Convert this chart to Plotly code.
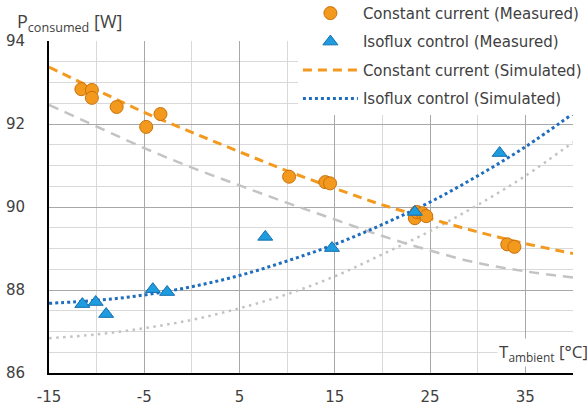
import plotly.graph_objects as go

# Simulated curves (x in °C, y in W)
x_sim = [-15, -10, -5, 0, 5, 10, 15, 20, 25, 30, 35, 40]
cc_sim = [93.37, 92.82, 92.28, 91.80, 91.33, 90.87, 90.45, 90.05, 89.72, 89.40, 89.12, 88.88]
iso_sim = [87.68, 87.75, 87.88, 88.08, 88.35, 88.70, 89.10, 89.58, 90.12, 90.75, 91.45, 92.25]
cc_sim_gray = [92.46, 91.94, 91.42, 90.95, 90.52, 90.10, 89.70, 89.30, 88.95, 88.65, 88.45, 88.30]
iso_sim_gray = [86.84, 86.93, 87.08, 87.28, 87.56, 87.90, 88.33, 88.86, 89.42, 90.05, 90.75, 91.56]

# Measured points
cc_meas_x = [-11.6, -10.5, -10.5, -7.9, -4.8, -3.3, 10.2, 14.0, 14.5, 23.4, 23.6, 24.2, 24.6, 33.1, 33.85]
cc_meas_y = [92.84, 92.82, 92.63, 92.41, 91.93, 92.24, 90.73, 90.60, 90.57, 89.73, 89.88, 89.85, 89.78, 89.10, 89.04]
iso_meas_x = [-11.5, -10.1, -9.0, -4.1, -2.6, 7.7, 14.7, 23.4, 32.3]
iso_meas_y = [87.66, 87.71, 87.42, 88.02, 87.95, 89.28, 89.01, 89.88, 91.30]

x_ticks = [-15, -5, 5, 15, 25, 35]
y_ticks = [86, 88, 90, 92, 94]

FONT = "DejaVu Sans"
TITLE_FONT = "Open Sans"
TXT = "#404040"
ORANGE = "#F39A1E"
ORANGE_EDGE = "#C9700A"
BLUE = "#1E9CDF"
BLUE_EDGE = "#136FAE"
BLUE_LINE = "#1F6DBE"
GRAY = "#C3C3C3"

fig = go.Figure()

fig.add_trace(go.Scatter(x=x_sim, y=cc_sim_gray, mode="lines", showlegend=False,
                         line=dict(color=GRAY, width=2.5, dash="10px,7px", shape="spline"),
                         hoverinfo="skip"))
fig.add_trace(go.Scatter(x=x_sim, y=iso_sim_gray, mode="lines", showlegend=False,
                         line=dict(color=GRAY, width=2.5, dash="2.5px,4.5px", shape="spline"),
                         hoverinfo="skip"))
fig.add_trace(go.Scatter(x=x_sim, y=cc_sim, mode="lines", name="Constant current (Simulated)",
                         legendrank=3, legendgroup="c",
                         line=dict(color=ORANGE, width=3, dash="9px,6px", shape="spline")))
fig.add_trace(go.Scatter(x=x_sim, y=iso_sim, mode="lines", name="Isoflux control (Simulated)",
                         legendrank=4, legendgroup="d",
                         line=dict(color=BLUE_LINE, width=3, dash="3px,3px", shape="spline")))
fig.add_trace(go.Scatter(x=cc_meas_x, y=cc_meas_y, mode="markers", name="Constant current (Measured)",
                         legendrank=1, legendgroup="a",
                         marker=dict(symbol="circle", size=13, color=ORANGE,
                                     line=dict(color=ORANGE_EDGE, width=1))))
fig.add_trace(go.Scatter(x=iso_meas_x, y=iso_meas_y, mode="markers", name="Isoflux control (Measured)",
                         legendrank=2, legendgroup="b",
                         marker=dict(symbol="triangle-up", size=13, color=BLUE,
                                     line=dict(color=BLUE_EDGE, width=1))))

axis_common = dict(
    showline=True, linecolor="black", linewidth=2, zeroline=False,
    ticks="", tickfont=dict(family=FONT, size=15, color=TXT),
    showgrid=True, gridcolor="#A8A8A8", gridwidth=1,
)

fig.update_xaxes(range=[-15, 40], tickvals=x_ticks, ticktext=[str(v) for v in x_ticks],
                 minor=dict(dtick=5, tick0=-15, showgrid=True, gridcolor="#D9D9D9", gridwidth=1),
                 ticklabelstandoff=9, **axis_common)
fig.update_yaxes(range=[86, 94], tickvals=y_ticks, ticktext=[str(v) for v in y_ticks],
                 minor=dict(dtick=0.5, tick0=86, showgrid=True, gridcolor="#D9D9D9", gridwidth=1),
                 ticklabelstandoff=19, **axis_common)

fig.update_layout(
    width=587, height=407,
    margin=dict(l=49, r=14, t=41, b=34, autoexpand=False),
    plot_bgcolor="white", paper_bgcolor="white",
    font=dict(family=FONT, color=TXT),
    legend=dict(x=0.475, xanchor="left", y=1.133, yanchor="top",
                bgcolor="white", font=dict(family=FONT, size=15, color=TXT),
                itemwidth=55, tracegroupgap=6, traceorder="grouped"),
    annotations=[
        dict(text="P<sub>consumed</sub> [W]", xref="paper", yref="paper",
             x=-0.0649, y=1.057, xanchor="left", yanchor="middle", showarrow=False,
             font=dict(family=TITLE_FONT, size=18, color=TXT)),
        dict(text="T<sub>ambient</sub> [°C]", xref="paper", yref="paper",
             x=1.032, y=0.063, xanchor="right", yanchor="middle", showarrow=False,
             bgcolor="white", font=dict(family=TITLE_FONT, size=17, color=TXT)),
    ],
)

fig.write_html("out.html")
